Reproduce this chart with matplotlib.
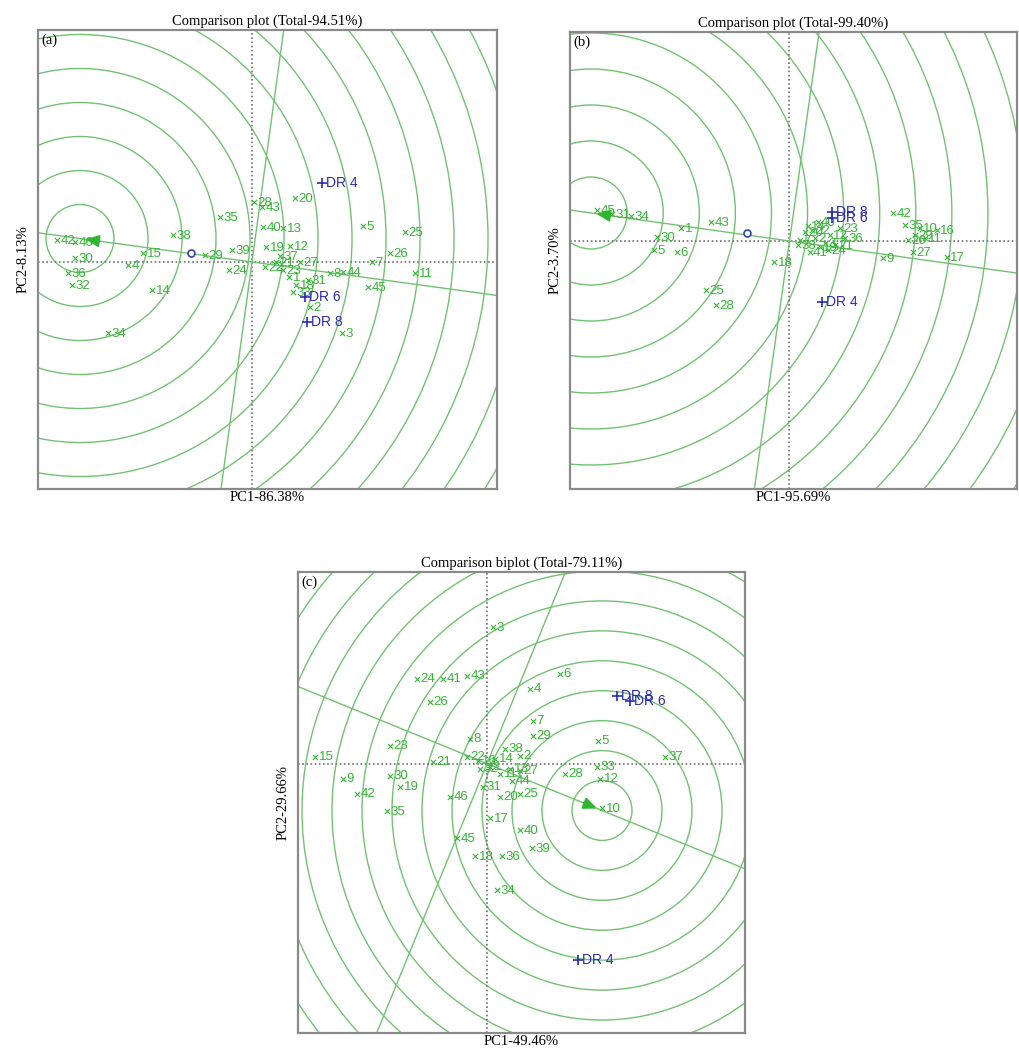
import matplotlib
matplotlib.use("Agg")
import matplotlib.pyplot as plt
from matplotlib.patches import Circle
import numpy as np

# ---------------- Panel (a) ----------------
a_title = "Comparison plot (Total-94.51%)"
a_xlabel = "PC1-86.38%"
a_ylabel = "PC2-8.13%"
a_xlim = (-4.28, 4.90)
a_ylim = (-4.54, 4.64)
a_center = (-3.44, 0.47)
a_ring_step = 0.68
a_avg_point = (-1.22, 0.18)
a_gen_labels = ["42", "46", "38", "15", "29", "35", "39", "24", "30", "36", "32", "4", "14", "34",
                "20", "28", "43", "40", "13", "5", "25", "19", "12", "37", "26", "7", "22", "21",
                "1", "18", "2", "8", "44", "45", "11", "3", "23", "27", "31", "33"]
a_gen_x = [-3.90, -3.54, -1.58, -2.18, -0.94, -0.64, -0.40, -0.46, -3.54, -3.68, -3.60, -2.48, -2.00, -2.88,
           0.86, 0.04, 0.20, 0.22, 0.62, 2.22, 3.06, 0.28, 0.76, 0.56, 2.76, 2.40, 0.26, 0.48,
           0.74, 0.88, 1.16, 1.56, 1.82, 2.32, 3.26, 1.80, 0.62, 0.96, 1.12, 0.82]
a_gen_y = [0.44, 0.40, 0.54, 0.18, 0.14, 0.90, 0.24, -0.16, 0.08, -0.22, -0.46, -0.06, -0.56, -1.42,
           1.28, 1.20, 1.10, 0.70, 0.68, 0.72, 0.60, 0.30, 0.32, 0.12, 0.18, 0.00, -0.10, 0.00,
           -0.30, -0.46, -0.90, -0.22, -0.20, -0.50, -0.22, -1.42, -0.16, 0.00, -0.36, -0.60]
a_env_labels = ["DR 4", "DR 6", "DR 8"]
a_env_x = [1.40, 1.06, 1.10]
a_env_y = [1.58, -0.70, -1.20]

# ---------------- Panel (b) ----------------
b_title = "Comparison plot (Total-99.40%)"
b_xlabel = "PC1-95.69%"
b_ylabel = "PC2-3.70%"
b_xlim = (-4.38, 4.54)
b_ylim = (-4.96, 4.18)
b_center = (-3.96, 0.56)
b_ring_step = 0.72
b_avg_point = (-0.84, 0.16)
b_gen_labels = ["31", "34", "45", "43", "1", "30", "5", "6", "25", "28", "18",
                "14", "23", "41", "2", "3", "7", "12", "19", "20", "21", "22", "24", "36", "38", "40",
                "42", "35", "29", "11", "16", "26", "10", "9", "27", "17"]
b_gen_x = [-3.54, -3.16, -3.84, -1.56, -2.16, -2.64, -2.70, -2.24, -1.66, -1.46, -0.30,
           0.36, 1.00, 0.40, 0.50, 0.70, 0.20, 0.80, 0.60, 0.30, 0.90, 0.44, 0.76, 1.10, 0.16, 0.56,
           2.06, 2.30, 2.50, 2.70, 2.94, 2.36, 2.60, 1.86, 2.46, 3.14]
b_gen_y = [0.54, 0.50, 0.62, 0.38, 0.26, 0.08, -0.18, -0.22, -0.98, -1.28, -0.42,
           0.30, 0.26, -0.22, 0.06, -0.04, 0.02, 0.12, -0.12, 0.18, -0.08, 0.22, -0.18, 0.06, -0.08, 0.38,
           0.56, 0.32, 0.12, 0.06, 0.22, 0.02, 0.26, -0.34, -0.22, -0.32]
b_env_labels = ["DR 8", "DR 6", "DR 4"]
b_env_x = [0.84, 0.84, 0.64]
b_env_y = [0.58, 0.46, -1.22]

# ---------------- Panel (c) ----------------
c_title = "Comparison biplot (Total-79.11%)"
c_xlabel = "PC1-49.46%"
c_ylabel = "PC2-29.66%"
c_xlim = (-3.78, 5.16)
c_ylim = (-5.40, 3.84)
c_center = (2.30, -0.94)
c_ring_step = 0.60
c_gen_labels = ["3", "24", "41", "43", "26", "6", "4", "7", "29", "8", "23", "15", "21", "22",
                "9", "30", "19", "42", "35", "46", "31", "20", "25", "17", "40", "39", "45", "18",
                "36", "34", "5", "37", "28", "33", "12", "10",
                "38", "2", "14", "13", "11", "1", "27", "32", "16", "44"]
c_gen_x = [0.12, -1.40, -0.88, -0.40, -1.14, 1.46, 0.86, 0.92, 0.92, -0.34, -1.94, -3.44, -1.08, -0.40,
           -2.88, -1.94, -1.74, -2.60, -2.00, -0.74, -0.08, 0.26, 0.66, 0.06, 0.66, 0.90, -0.60, -0.24,
           0.30, 0.20, 2.22, 3.56, 1.56, 2.20, 2.26, 2.30,
           0.36, 0.66, 0.16, 0.46, 0.26, 0.06, 0.66, -0.14, -0.18, 0.50]
c_gen_y = [2.74, 1.70, 1.70, 1.76, 1.24, 1.80, 1.50, 0.86, 0.56, 0.50, 0.36, 0.14, 0.04, 0.14,
           -0.30, -0.24, -0.46, -0.60, -0.96, -0.66, -0.46, -0.66, -0.60, -1.10, -1.34, -1.70, -1.50, -1.86,
           -1.86, -2.54, 0.46, 0.14, -0.20, -0.06, -0.30, -0.90,
           0.30, 0.16, 0.10, -0.10, -0.20, -0.06, -0.14, -0.10, 0.06, -0.34]
c_env_labels = ["DR 8", "DR 6", "DR 4"]
c_env_x = [2.60, 2.86, 1.82]
c_env_y = [1.36, 1.26, -3.94]

RING = "#72c272"
GEN = "#36b536"
ENV = "#2b2bb0"
SERIF = ["Liberation Serif", "DejaVu Serif"]
SANS = ["Liberation Sans", "DejaVu Sans"]


def panel(ax, title, xlabel, ylabel, tag, xlim, ylim, center, step,
          gl, gx, gy, el, ex, ey, avg=None):
    ax.set_xlim(*xlim)
    ax.set_ylim(*ylim)
    ax.set_xticks([])
    ax.set_yticks([])
    for s in ax.spines.values():
        s.set_color("#8a8a8a")
        s.set_linewidth(1.6)
    # concentric rings
    for k in range(1, 20):
        ax.add_patch(Circle(center, k * step, fill=False, ec=RING, lw=1.0, zorder=1))
    # dotted axes
    ax.axhline(0, color="#707070", ls=(0, (1, 1.5)), lw=1.2, zorder=2)
    ax.axvline(0, color="#707070", ls=(0, (1, 1.5)), lw=1.2, zorder=2)
    # line through origin and ideal point, and its perpendicular
    cx, cy = center
    t = np.array([-20, 20])
    ax.plot(t * cx, t * cy, color=RING, lw=1.0, zorder=2)
    ax.plot(-t * cy, t * cx, color=RING, lw=1.0, zorder=2)
    # arrow toward the ideal point
    L = np.hypot(cx, cy)
    ux, uy = -cx / L, -cy / L
    ax.annotate("", xy=(cx + 0.05 * ux, cy + 0.05 * uy),
                xytext=(cx + 0.45 * ux, cy + 0.45 * uy),
                arrowprops=dict(arrowstyle="-|>,head_length=0.8,head_width=0.35",
                                color="#2fb52f", lw=1.5), zorder=5)
    if avg is not None:
        ax.plot(avg[0], avg[1], "o", ms=5, mfc="white", mec="#3344aa", mew=1.2, zorder=5)
    # genotypes
    ax.scatter(gx, gy, marker="x", s=14, color=GEN, lw=0.8, zorder=4)
    for lab, x, y in zip(gl, gx, gy):
        ax.annotate(lab, (x, y), xytext=(2.5, -0.5), textcoords="offset points",
                    color=GEN, fontsize=9.5, family=SANS, va="center", ha="left", zorder=4)
    # environments
    ax.scatter(ex, ey, marker="+", s=45, color=ENV, lw=1.2, zorder=6)
    for lab, x, y in zip(el, ex, ey):
        ax.annotate(lab, (x, y), xytext=(3, 0), textcoords="offset points",
                    color=ENV, fontsize=10, family=SANS, va="center", ha="left", zorder=6)
    ax.set_title(title, fontsize=10.5, family=SERIF, pad=4)
    ax.set_xlabel(xlabel, fontsize=10.5, family=SERIF, labelpad=1.5)
    ax.set_ylabel(ylabel, fontsize=10.5, family=SERIF, labelpad=6)
    ax.text(0.008, 0.992, tag, transform=ax.transAxes, ha="left", va="top",
            fontsize=10.5, family=SERIF, zorder=7)


fig = plt.figure(figsize=(10.19, 10.5), dpi=100)
ax_a = fig.add_axes([38 / 1019, 1 - 489 / 1050, 459 / 1019, 459 / 1050])
ax_b = fig.add_axes([570 / 1019, 1 - 489 / 1050, 447 / 1019, 457 / 1050])
ax_c = fig.add_axes([298 / 1019, 1 - 1033 / 1050, 447 / 1019, 461 / 1050])

panel(ax_a, a_title, a_xlabel, a_ylabel, "(a)", a_xlim, a_ylim, a_center, a_ring_step,
      a_gen_labels, a_gen_x, a_gen_y, a_env_labels, a_env_x, a_env_y, a_avg_point)
panel(ax_b, b_title, b_xlabel, b_ylabel, "(b)", b_xlim, b_ylim, b_center, b_ring_step,
      b_gen_labels, b_gen_x, b_gen_y, b_env_labels, b_env_x, b_env_y, b_avg_point)
panel(ax_c, c_title, c_xlabel, c_ylabel, "(c)", c_xlim, c_ylim, c_center, c_ring_step,
      c_gen_labels, c_gen_x, c_gen_y, c_env_labels, c_env_x, c_env_y)

fig.savefig("out.png", dpi=100, facecolor="white")
